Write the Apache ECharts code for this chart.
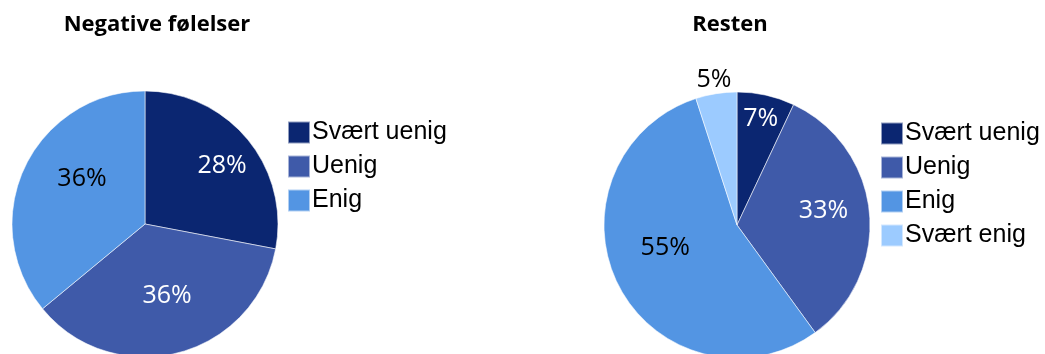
<!DOCTYPE html>
<html>
<head>
<meta charset="utf-8">
<script src="https://cdn.jsdelivr.net/npm/echarts@6/dist/echarts.min.js"></script>
<style>html,body{margin:0;padding:0;background:#fff}#chart{width:1045px;height:354px}</style>
</head>
<body>
<div id="chart"></div>
<script>
var leftTitle = 'Negative følelser';
var leftNames = ['Svært uenig', 'Uenig', 'Enig'];
var leftValues = [28, 36, 36];
var rightTitle = 'Resten';
var rightNames = ['Svært uenig', 'Uenig', 'Enig', 'Svært enig'];
var rightValues = [7, 33, 55, 5];

// colours per category
var sliceColors = {'Svært uenig': '#0b2671', 'Uenig': '#3f5aa9', 'Enig': '#5395e3', 'Svært enig': '#9ccbff'};
var labelColors = {'Svært uenig': '#fff', 'Uenig': '#fff', 'Enig': '#000', 'Svært enig': '#000'};
// label placement: share of radius, and turn (deg) off the slice middle
var leftLabelR = [0.725, 0.566, 0.582];
var leftLabelTurn = [2.6, -2.6, 10.3];
var rightLabelR = [0.817, 0.659, 0.566, 1.105];
var rightLabelTurn = [0, -4, 9.4, 0];
var R = 133;

function makeData(names, values) {
    return names.map(function (n, i) {
        return {
            name: n,
            value: values[i],
            itemStyle: { color: sliceColors[n] },
            label: { color: labelColors[n] }
        };
    });
}

// inside labels sit on the slice middle, move them like Excel's best fit
function placeLabels(cx, cy, fr, turn) {
    return function (p) {
        var r = p.labelRect;
        var lx = r.x + r.width / 2, ly = r.y + r.height / 2;
        var a = Math.atan2(lx - cx, cy - ly) + turn[p.dataIndex] * Math.PI / 180;
        var d = fr[p.dataIndex] * R;
        return { x: cx + d * Math.sin(a), y: cy - d * Math.cos(a) };
    };
}

function pieSeries(names, values, cx, cy, fr, turn) {
    return {
        type: 'pie',
        center: [cx, cy],
        radius: [0, R],
        startAngle: 90,
        clockwise: true,
        silent: true,
        animation: false,
        data: makeData(names, values),
        itemStyle: { borderColor: 'rgba(255,255,255,0.55)', borderWidth: 1 },
        label: {
            show: true,
            position: 'inside',
            fontFamily: 'Open Sans',
            fontSize: 25,
            formatter: function (p) { return p.value + '%'; }
        },
        labelLine: { show: false },
        labelLayout: placeLabels(cx, cy, fr, turn)
    };
}

function legendAt(names, left, top) {
    return {
        orient: 'vertical',
        left: left,
        top: top,
        padding: 0,
        icon: 'rect',
        itemWidth: 22,
        itemHeight: 22,
        itemGap: 9,
        selectedMode: false,
        data: names,
        textStyle: { fontFamily: 'Liberation Sans', fontSize: 25, color: '#000', padding: [0, 0, 0, -3] }
    };
}

var chart = echarts.init(document.getElementById('chart'));
chart.setOption({
    backgroundColor: '#fff',
    title: [
        { text: leftTitle, left: 157, top: 14, padding: 0, textAlign: 'center',
          textStyle: { fontFamily: 'Open Sans', fontWeight: 'bold', fontSize: 22, color: '#000' } },
        { text: rightTitle, left: 730, top: 14, padding: 0, textAlign: 'center',
          textStyle: { fontFamily: 'Open Sans', fontWeight: 'bold', fontSize: 22, color: '#000' } }
    ],
    legend: [
        legendAt(leftNames, 287, 120),
        legendAt(rightNames, 880, 121)
    ],
    series: [
        pieSeries(leftNames, leftValues, 145, 224, leftLabelR, leftLabelTurn),
        pieSeries(rightNames, rightValues, 737, 225, rightLabelR, rightLabelTurn)
    ]
});
</script>
</body>
</html>
